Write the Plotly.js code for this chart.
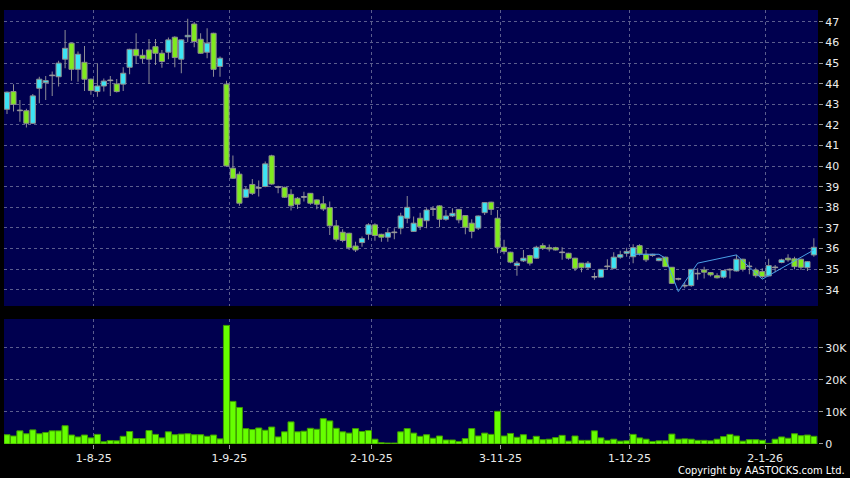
<!DOCTYPE html>
<html><head><meta charset="utf-8">
<script src="https://cdn.plot.ly/plotly-3.0.1.min.js"></script>
<style>html,body{margin:0;padding:0;background:#000;}#chart{width:850px;height:478px;}</style>
</head><body><div id="chart"></div>
<script>
// Trading days (HK), 15 Jul 2025 - 14 Jan 2026
const dates = [
'2025-07-15','2025-07-16','2025-07-17','2025-07-18','2025-07-21','2025-07-22','2025-07-23','2025-07-24','2025-07-25','2025-07-28','2025-07-29','2025-07-30','2025-07-31',
'2025-08-01','2025-08-04','2025-08-05','2025-08-06','2025-08-07','2025-08-08','2025-08-11','2025-08-12','2025-08-13','2025-08-14','2025-08-15','2025-08-18','2025-08-19','2025-08-20','2025-08-21','2025-08-22','2025-08-25','2025-08-26','2025-08-27','2025-08-28','2025-08-29',
'2025-09-01','2025-09-02','2025-09-03','2025-09-04','2025-09-05','2025-09-08','2025-09-09','2025-09-10','2025-09-11','2025-09-12','2025-09-15','2025-09-16','2025-09-17','2025-09-18','2025-09-19','2025-09-22','2025-09-23','2025-09-24','2025-09-25','2025-09-26','2025-09-29','2025-09-30',
'2025-10-02','2025-10-03','2025-10-06','2025-10-08','2025-10-09','2025-10-10','2025-10-13','2025-10-14','2025-10-15','2025-10-16','2025-10-17','2025-10-20','2025-10-21','2025-10-22','2025-10-23','2025-10-24','2025-10-27','2025-10-28','2025-10-30','2025-10-31',
'2025-11-03','2025-11-04','2025-11-05','2025-11-06','2025-11-07','2025-11-10','2025-11-11','2025-11-12','2025-11-13','2025-11-14','2025-11-17','2025-11-18','2025-11-19','2025-11-20','2025-11-21','2025-11-24','2025-11-25','2025-11-26','2025-11-27','2025-11-28',
'2025-12-01','2025-12-02','2025-12-03','2025-12-04','2025-12-05','2025-12-08','2025-12-09','2025-12-10','2025-12-11','2025-12-12','2025-12-15','2025-12-16','2025-12-17','2025-12-18','2025-12-19','2025-12-22','2025-12-23','2025-12-24','2025-12-29','2025-12-30','2025-12-31',
'2026-01-02','2026-01-05','2026-01-06','2026-01-07','2026-01-08','2026-01-09','2026-01-12','2026-01-13','2026-01-14'
];
const openP = [
42.76,43.62,42.70,42.69,42.08,43.78,44.05,44.39,44.34,45.19,
45.97,44.70,45.04,44.22,43.62,43.89,44.15,43.99,43.98,44.80,
45.67,45.38,45.64,45.80,45.48,45.53,46.26,45.19,46.28,46.90,
46.16,45.53,46.45,44.84,43.98,39.90,39.61,38.49,39.11,38.93,
39.01,40.50,38.97,38.97,38.63,38.44,38.49,38.68,38.36,38.17,
37.99,37.10,36.79,36.74,36.12,36.29,36.69,37.15,36.69,36.55,
36.77,36.99,37.47,36.83,37.47,37.35,37.90,38.07,37.42,37.58,
37.90,37.60,37.23,36.99,37.74,38.25,37.47,36.06,35.82,35.17,
35.40,35.66,35.53,36.14,36.04,36.04,35.80,35.77,35.53,35.29,
35.07,34.61,34.61,35.12,35.04,35.58,35.77,35.60,36.14,35.72,
35.66,35.41,35.58,35.09,34.53,34.18,34.20,34.77,34.96,34.83,
34.68,34.61,34.96,34.91,35.48,35.12,34.96,34.88,34.67,35.07,
35.32,35.53,35.50,35.48,35.07,35.69
];
const highP = [
43.62,43.98,43.21,42.78,43.50,44.34,44.38,44.59,45.12,46.61,
45.99,45.56,45.83,44.25,45.00,44.26,44.38,44.23,44.80,45.70,
46.45,45.67,46.17,46.17,45.64,46.24,46.30,46.15,47.15,47.00,
46.45,46.69,46.47,45.32,44.15,40.52,39.74,39.01,39.38,39.30,
40.22,40.55,39.05,39.00,38.88,38.50,38.76,38.70,38.38,38.55,
38.28,37.39,36.94,36.76,36.33,36.58,37.23,37.23,36.72,36.99,
36.99,37.74,38.55,37.56,37.74,37.95,38.07,38.10,37.87,37.95,
37.92,37.62,37.42,37.60,38.25,38.27,37.87,36.42,35.84,35.40,
35.93,35.70,36.14,36.26,36.20,36.08,36.06,35.80,35.55,35.30,
35.40,34.83,35.00,35.48,35.82,35.89,36.04,36.21,36.21,35.93,
35.75,35.56,35.60,35.10,34.58,34.36,35.00,35.04,35.12,34.85,
34.80,34.95,35.04,35.69,35.50,35.36,35.07,35.04,35.50,35.20,
35.50,35.72,35.60,35.50,35.38,36.50
];
const lowP = [
42.53,42.65,42.16,41.87,42.05,43.05,43.21,43.41,43.86,44.75,
44.15,44.10,43.65,43.46,43.37,43.62,43.41,43.57,43.65,44.46,
44.96,44.99,43.99,44.91,44.78,45.19,44.80,44.51,46.02,45.77,
45.45,45.24,44.34,44.34,40.00,39.38,38.08,38.45,38.60,38.52,
38.98,39.10,38.68,38.45,37.84,37.92,38.28,38.12,37.91,37.82,
36.66,36.34,36.31,35.93,35.83,36.09,36.42,36.38,36.33,36.33,
36.45,36.69,37.23,36.80,36.90,36.99,37.58,37.03,37.35,37.53,
37.23,36.69,36.50,36.90,37.63,37.63,35.77,35.72,35.29,34.68,
35.34,35.17,35.50,35.93,35.85,35.90,35.45,35.45,34.91,34.85,
34.99,34.48,34.60,34.96,34.99,35.50,35.60,35.29,35.66,35.34,
35.60,35.38,35.10,34.28,34.45,34.07,34.15,34.48,34.55,34.64,
34.55,34.55,34.55,34.88,34.88,34.75,34.58,34.55,34.64,34.85,
35.29,35.36,34.99,34.96,34.91,35.60
];
const closeP = [
43.59,43.00,42.69,42.08,43.41,44.22,44.15,44.40,45.00,45.72,
44.70,45.43,44.22,43.67,43.89,44.13,44.16,43.62,44.51,45.67,
45.36,45.22,45.19,45.48,45.08,46.13,45.27,46.13,46.35,46.05,
45.48,45.97,44.70,45.24,40.01,39.41,38.20,38.88,38.68,38.93,
40.11,39.13,38.97,38.49,38.07,38.15,38.50,38.20,38.15,37.92,
37.10,36.45,36.39,36.04,35.93,36.48,37.15,36.63,36.55,36.77,
36.77,37.58,38.00,37.23,37.06,37.87,37.91,37.42,37.58,37.71,
37.39,37.03,36.83,37.58,38.23,37.90,36.06,35.85,35.34,35.29,
35.53,35.29,36.06,36.01,35.98,35.93,35.80,35.53,35.04,35.07,
35.29,34.61,34.99,35.12,35.58,35.70,35.86,36.04,35.74,35.45,
35.72,35.53,35.12,34.31,34.51,34.18,34.99,34.77,34.85,34.72,
34.58,34.93,34.96,35.48,34.99,35.12,34.68,34.64,35.17,35.07,
35.45,35.45,35.12,35.09,35.36,36.06
];
// daily volume (shares)
const volume = [
2900,2500,4100,3200,4400,3200,3600,4100,4100,5700,
2800,2200,2800,1900,3000,700,1100,1000,2400,3900,
1700,1700,4200,3000,1900,3800,2900,3100,3200,2900,
2900,2400,2800,1600,37000,13300,11400,4800,4500,5000,
4300,5300,2200,3800,6900,3800,4000,4900,4600,7900,
7200,4900,3800,3400,4800,3900,4200,1500,400,300,
300,3800,4800,3400,2400,2900,1800,2500,1250,1250,
800,1700,4800,2500,3400,3000,10200,2500,3300,2100,
2900,1350,2400,1350,1500,2000,2700,900,2500,1150,
1150,4100,1900,1150,1500,900,1000,3000,1900,1500,
800,1000,1000,3100,1500,1600,1500,1150,1150,1000,
1500,2300,3000,2500,900,1350,1350,1150,200,1500,
2200,1800,3200,2600,2800,2400
];
// thin comparison line on the last weeks
const lineDates = ['2025-12-02','2025-12-08','2025-12-09','2025-12-11','2025-12-16','2025-12-24','2026-01-02','2026-01-14'];
const lineValues = [35.72,35.72,35.53,33.91,35.29,35.69,34.51,35.93];
const tickDates = ['2025-08-01','2025-09-01','2025-10-02','2025-11-03','2025-12-01','2026-01-02'];
const tickLabels = ['1-8-25','1-9-25','2-10-25','3-11-25','1-12-25','2-1-26'];
const priceTicks = [34,35,36,37,38,39,40,41,42,43,44,45,46,47];
const volTicks = [0,10000,20000,30000];
const volTickLabels = ['0','10K','20K','30K'];

const CYAN = '#3ce4f4', GREEN = '#7fea1e', OUTLINE = '#8e8e8e', DOJI = '#9a9a9a', WICK = '#9c9c9c';
const idx = dates.map((d, i) => i);
const DOJI_TOL = 0.025;
const bodyBase = idx.map(i => Math.min(openP[i], closeP[i]));
const bodySize = idx.map(i => Math.max(Math.abs(closeP[i] - openP[i]), 0.03));
const bodyColor = idx.map(i => closeP[i] - openP[i] > DOJI_TOL ? CYAN : (openP[i] - closeP[i] > DOJI_TOL ? GREEN : DOJI));
const bodyLine = idx.map(i => Math.abs(closeP[i] - openP[i]) <= DOJI_TOL ? DOJI : OUTLINE);
const wickBase = lowP;
const wickSize = idx.map(i => highP[i] - lowP[i]);

const tickOffset = 0.45;
const tickvals = tickDates.map(d => dates.indexOf(d) + tickOffset);

const traces = [
  {type: 'bar', x: idx, base: wickBase, y: wickSize, width: 0.14, xaxis: 'x2', yaxis: 'y',
    marker: {color: WICK, line: {width: 0}}, hoverinfo: 'skip', showlegend: false},
  {type: 'bar', x: idx, base: bodyBase, y: bodySize, width: 0.8, xaxis: 'x2', yaxis: 'y',
    marker: {color: bodyColor, line: {color: bodyLine, width: 1}}, hoverinfo: 'skip', showlegend: false},
  {type: 'scatter', mode: 'lines', x: lineDates.map(d => dates.indexOf(d)), y: lineValues,
    xaxis: 'x2', yaxis: 'y', line: {color: '#4aa0e6', width: 1}, hoverinfo: 'skip', showlegend: false},
  {type: 'bar', x: idx, y: volume, xaxis: 'x', yaxis: 'y2',
    marker: {color: '#66ff00', line: {color: '#3f9c00', width: 1}}, hoverinfo: 'skip', showlegend: false}
];
const font = {family: 'DejaVu Sans', size: 11, color: '#ececec'};
const grid = '#5b5d8e';
const layout = {
  width: 850, height: 478,
  margin: {l: 4, r: 32, t: 10, b: 34},
  paper_bgcolor: '#000000', plot_bgcolor: '#00004f',
  font: font, showlegend: false, barmode: 'overlay', bargap: 0.06,
  xaxis: {anchor: 'y2', range: [-0.465, 125.64], tickvals: tickvals, ticktext: tickLabels,
    showgrid: true, gridcolor: grid, griddash: '3px,3px', gridwidth: 1, zeroline: false,
    ticks: 'outside', ticklen: 4, tickcolor: '#9a9a9a', tickfont: font, fixedrange: true},
  xaxis2: {anchor: 'y', matches: 'x', tickvals: tickvals, showticklabels: false, ticks: '',
    showgrid: true, gridcolor: grid, griddash: '3px,3px', zeroline: false},
  yaxis: {domain: [0.318, 1], range: [33.21, 47.58], side: 'right', tickvals: priceTicks,
    showgrid: true, gridcolor: grid, griddash: '3px,3px', zeroline: false,
    ticks: 'outside', ticklen: 4, tickcolor: '#9a9a9a', tickfont: font},
  yaxis2: {domain: [0, 0.288], range: [0, 39000], side: 'right', tickvals: volTicks, ticktext: volTickLabels,
    showgrid: true, gridcolor: grid, griddash: '3px,3px', zeroline: false,
    ticks: 'outside', ticklen: 4, tickcolor: '#9a9a9a', tickfont: font},
  annotations: [{text: 'Copyright by AASTOCKS.com Ltd.', xref: 'paper', yref: 'paper',
    x: 1.036, y: -0.061, xanchor: 'right', yanchor: 'middle', showarrow: false,
    font: {family: 'DejaVu Sans Condensed, Liberation Sans Narrow, DejaVu Sans', size: 11, color: '#ffffff'}}]
};
Plotly.newPlot('chart', traces, layout, {displayModeBar: false, staticPlot: true});
</script>
</body></html>
